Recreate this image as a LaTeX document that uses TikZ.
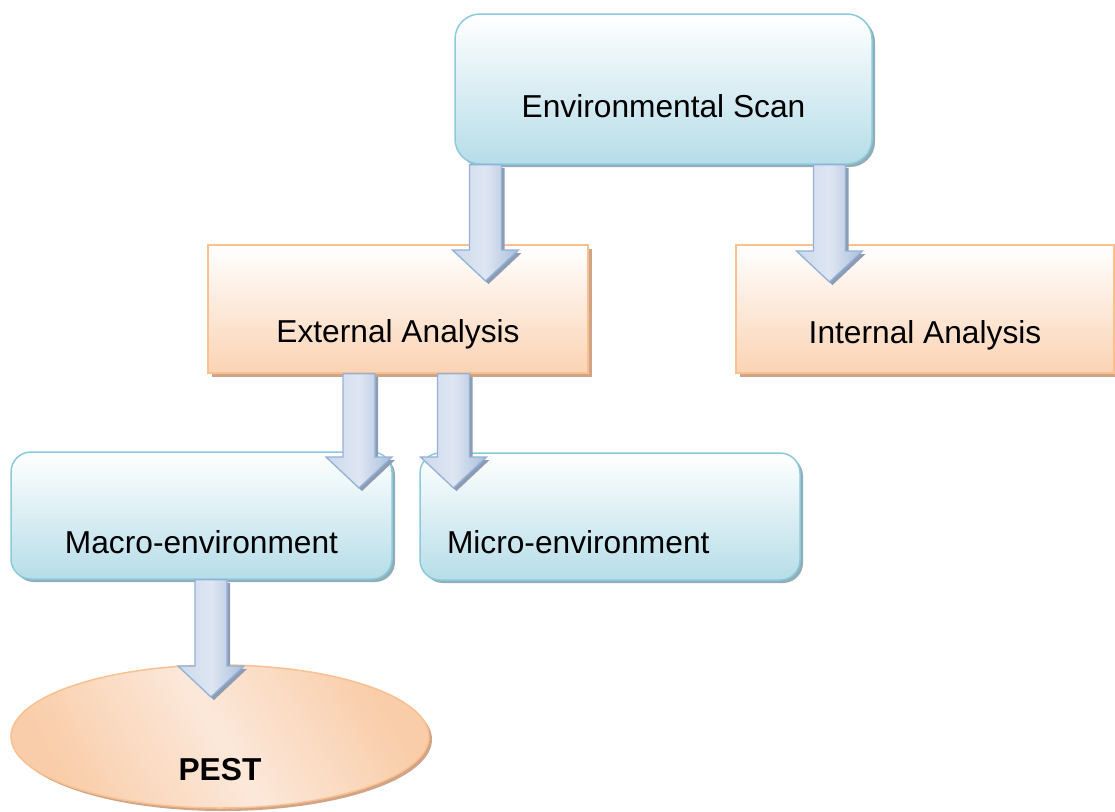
\documentclass[tikz,border=0pt]{standalone}
\usepackage{fontspec}
\setmainfont{Liberation Sans}
\usetikzlibrary{shapes.geometric,shadows,calc}

\definecolor{bluebot}{HTML}{B6DDE8}
\definecolor{blueline}{HTML}{8CCADB}
\definecolor{blueshadow}{HTML}{8FAEB8}
\definecolor{orangebot}{HTML}{FBD3B4}
\definecolor{orangeline}{HTML}{FAC090}
\definecolor{orangeshadow}{HTML}{CFA487}
\definecolor{ovaldark}{HTML}{F9CDA9}
\definecolor{ovallight}{HTML}{FCE8DA}
\definecolor{arrlight}{HTML}{DEE6F2}
\definecolor{arrleft}{HTML}{CCD9EB}
\definecolor{arrdark}{HTML}{A9BEDC}
\definecolor{arrline}{HTML}{93B1D8}
\definecolor{arrshadow}{HTML}{8E9CB3}

\tikzset{
  x=1pt, y=-1pt,
  every node/.style={font=\fontsize{31.7}{38}\selectfont, inner sep=0pt},
  bluebox/.style={rectangle, rounded corners=20pt, draw=blueline, line width=1.5pt,
    top color=white, bottom color=bluebot,
    drop shadow={shadow xshift=3pt, shadow yshift=-3pt, fill=blueshadow, opacity=1}},
  orangebox/.style={rectangle, draw=orangeline, line width=1.5pt,
    top color=white, bottom color=orangebot,
    drop shadow={shadow xshift=4pt, shadow yshift=-4pt, fill=orangeshadow, opacity=1}},
  oval/.style={ellipse, draw=orangeline, line width=1.5pt,
    shading=axis, top color=ovaldark, bottom color=ovaldark, middle color=ovallight,
    shading angle=-60,
    drop shadow={shadow xshift=3pt, shadow yshift=-3pt, fill=orangeshadow, opacity=1}},
  arrowbody/.style={left color=arrleft, right color=arrdark, middle color=arrlight,
    draw=arrline, line width=1.3pt, line join=miter},
}

% block arrow pointing down: shaft from the first point, tip at the second
\newcommand\arrowoutline[2]{%
  (\x1-16pt+#1,\y1+#2) -- (\x1+16pt+#1,\y1+#2) -- (\x1+16pt+#1,\y2+31pt+#2)
  -- (\x1+33pt+#1,\y2+31pt+#2) -- (\x1+#1,\y2+#2) -- (\x1-33pt+#1,\y2+31pt+#2)
  -- (\x1-16pt+#1,\y2+31pt+#2) -- cycle}
\newcommand\blockarrow[2]{%
  \fill[arrshadow] let \p1=(#1), \p2=(#2) in \arrowoutline{3pt}{-3pt};
  \path[arrowbody] let \p1=(#1), \p2=(#2) in \arrowoutline{0pt}{0pt};
}

\begin{document}
\begin{tikzpicture}
  \useasboundingbox (0,0) rectangle (1115,811);

  % boxes
  \node[bluebox, rounded corners=25pt, minimum width=417pt, minimum height=150pt,
        text height=56pt, text depth=0pt] (es) at (663.5,89) {Environmental Scan};
  \node[orangebox, minimum width=380pt, minimum height=128pt,
        text height=66pt, text depth=0pt] (ext) at (398,309) {External Analysis};
  \node[orangebox, minimum width=378pt, minimum height=128pt,
        text height=68pt, text depth=0pt] (int) at (925,309) {Internal Analysis};
  \node[bluebox, minimum width=381pt, minimum height=127pt,
        text height=75pt, text depth=0pt] (macro) at (201.5,515.5) {Macro-environment};
  \node[bluebox, minimum width=380pt, minimum height=127pt,
        text width=326pt, align=left,
        text height=73pt, text depth=0pt] (micro) at (610,516.5) {Micro-environment};
  \node[oval, minimum width=418pt, minimum height=143pt,
        text height=87pt, text depth=0pt] (pest) at (220,736.5) {\bfseries PEST};

  % arrow tips
  \coordinate (t1) at (485.5,281);
  \coordinate (t2) at (829.5,282);
  \coordinate (t3) at (359,488);
  \coordinate (t4) at (453.5,488);
  \coordinate (t5) at (211,697);

  % block arrows
  \blockarrow{es.south -| t1}{t1}
  \blockarrow{es.south -| t2}{t2}
  \blockarrow{ext.south -| t3}{t3}
  \blockarrow{ext.south -| t4}{t4}
  \blockarrow{macro.south -| t5}{t5}
\end{tikzpicture}
\end{document}
